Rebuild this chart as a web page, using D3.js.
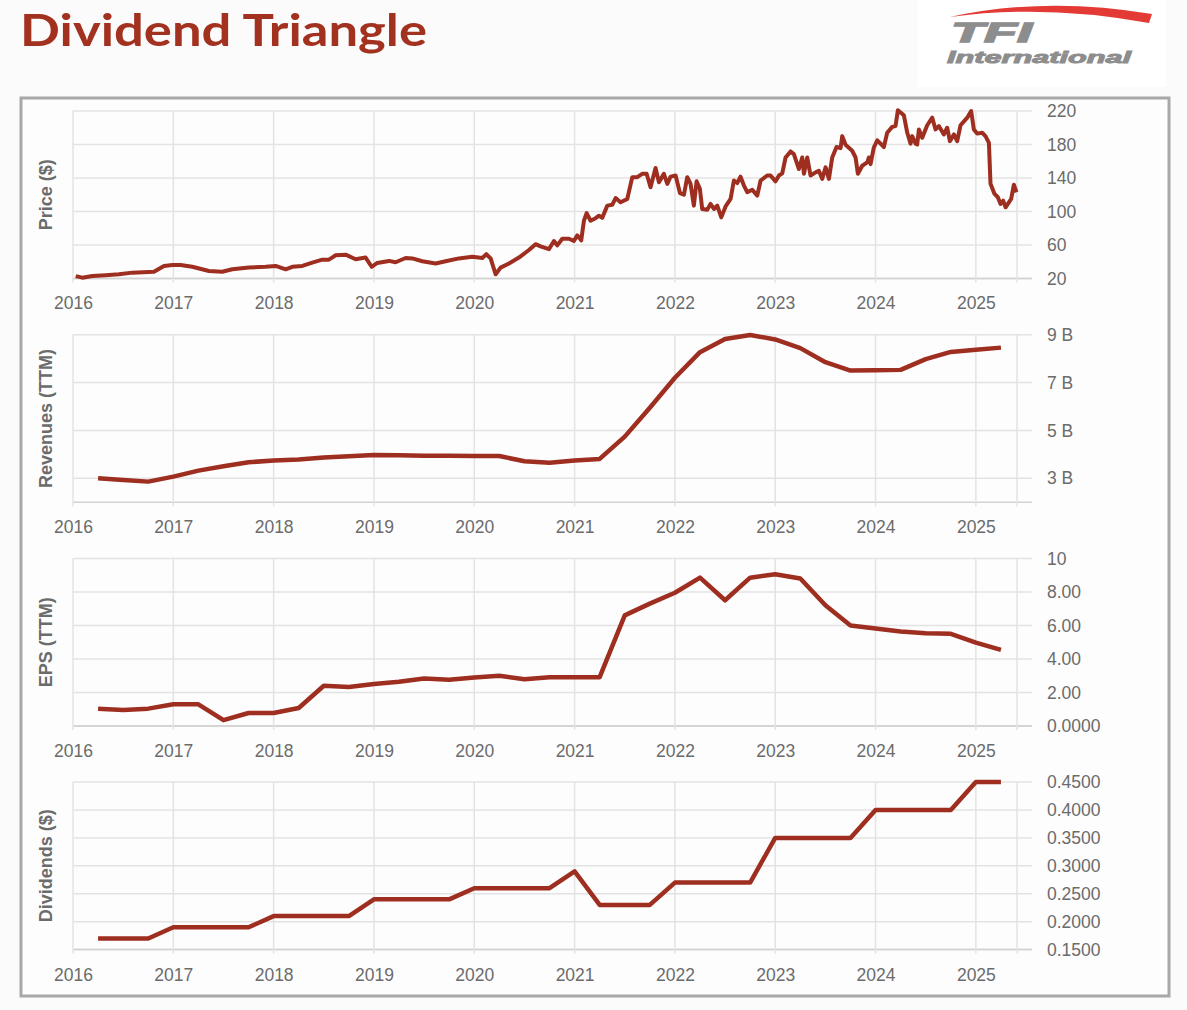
<!DOCTYPE html>
<html>
<head>
<meta charset="utf-8">
<script src="https://cdn.jsdelivr.net/npm/d3@7"></script>
<style>
  body { margin: 0; background: #fbfbfb; }
  svg { display: block; }
</style>
</head>
<body>
<svg id="chart" width="1187" height="1010"></svg>
<script>
// weekly-ish price readings (decimal year, $)
var priceYears = [
  2016.027, 2016.093, 2016.193, 2016.326, 2016.458, 2016.591, 2016.807, 2016.907, 2016.990, 2017.073,
  2017.189, 2017.355, 2017.488, 2017.588, 2017.754, 2017.920, 2018.020, 2018.120, 2018.186, 2018.286,
  2018.385, 2018.485, 2018.551, 2018.618, 2018.718, 2018.817, 2018.917, 2018.977, 2019.033, 2019.150,
  2019.216, 2019.316, 2019.382, 2019.482, 2019.615, 2019.714, 2019.847, 2019.980, 2020.080, 2020.120,
  2020.163, 2020.213, 2020.262, 2020.346, 2020.445, 2020.545, 2020.611, 2020.661, 2020.744, 2020.794,
  2020.827, 2020.877, 2020.944, 2020.993, 2021.027, 2021.066, 2021.093, 2021.120, 2021.159, 2021.209,
  2021.243, 2021.276, 2021.326, 2021.375, 2021.409, 2021.458, 2021.525, 2021.575, 2021.625, 2021.674,
  2021.718, 2021.757, 2021.807, 2021.841, 2021.890, 2021.924, 2021.957, 2022.007, 2022.050, 2022.090,
  2022.123, 2022.156, 2022.189, 2022.216, 2022.249, 2022.272, 2022.322, 2022.355, 2022.389, 2022.422,
  2022.462, 2022.505, 2022.555, 2022.588, 2022.621, 2022.654, 2022.688, 2022.721, 2022.771, 2022.821,
  2022.854, 2022.920, 2022.953, 2023.003, 2023.037, 2023.070, 2023.103, 2023.153, 2023.186, 2023.236,
  2023.269, 2023.286, 2023.319, 2023.352, 2023.402, 2023.435, 2023.468, 2023.502, 2023.535, 2023.568,
  2023.611, 2023.651, 2023.668, 2023.701, 2023.767, 2023.801, 2023.824, 2023.867, 2023.917, 2023.934,
  2023.950, 2023.983, 2024.017, 2024.050, 2024.083, 2024.116, 2024.166, 2024.199, 2024.223, 2024.282,
  2024.316, 2024.349, 2024.365, 2024.399, 2024.415, 2024.432, 2024.465, 2024.515, 2024.565, 2024.598,
  2024.631, 2024.681, 2024.714, 2024.741, 2024.781, 2024.814, 2024.847, 2024.914, 2024.953, 2024.980,
  2025.013, 2025.063, 2025.096, 2025.130, 2025.146, 2025.186, 2025.219, 2025.246, 2025.272, 2025.296,
  2025.329, 2025.352, 2025.379, 2025.405
];
var priceValues = [
  22.8, 21, 23, 24, 25, 27, 28, 35, 36, 36,
  34, 29, 28, 31, 33, 34, 35, 31, 34, 35,
  39, 42.5, 42.5, 47.7, 48.5, 43, 45, 34, 38.6, 41,
  39.4, 44.5, 44, 40.6, 38, 40.6, 44, 46, 44.5, 49,
  44, 25, 33, 38, 45, 54, 61, 58.4, 55, 64.7,
  59.6, 67.5, 67.5, 64.7, 71.5, 65.5, 89, 98, 89, 92,
  95, 92.5, 107, 108, 116, 111, 115, 141, 141, 145,
  145, 129, 152, 135, 145, 133, 141.6, 143, 122, 120,
  141, 133, 107, 136, 127, 103, 102, 109, 103, 107,
  93, 106, 115, 137, 134, 141.6, 131, 123, 126, 119,
  137, 143, 143, 136, 143, 145.5, 164.5, 171.7, 168.5, 150.7,
  164.5, 145, 164.5, 143, 146.7, 148.7, 139, 152.7, 139, 164.5,
  177, 175.6, 190, 179.6, 172.5, 164.5, 145, 154.6, 158.6, 164.5,
  156.6, 176.4, 185, 181, 177, 194, 201, 202, 221, 215,
  194, 181, 190, 181, 180, 198, 188, 203, 212, 198,
  202, 192, 200, 184, 192, 184, 203, 212, 220, 198,
  193, 194, 190, 182, 133, 121, 117, 109, 113, 105,
  111, 115, 132, 123
];

// quarterly series
var quarterYears = [
  2016.25, 2016.5, 2016.75,
  2017.0, 2017.25, 2017.5, 2017.75,
  2018.0, 2018.25, 2018.5, 2018.75,
  2019.0, 2019.25, 2019.5, 2019.75,
  2020.0, 2020.25, 2020.5, 2020.75,
  2021.0, 2021.25, 2021.5, 2021.75,
  2022.0, 2022.25, 2022.5, 2022.75,
  2023.0, 2023.25, 2023.5, 2023.75,
  2024.0, 2024.25, 2024.5, 2024.75,
  2025.0, 2025.25
];
var revenues = [
  3.0, 2.93, 2.86,
  3.07, 3.32, 3.5, 3.67,
  3.74, 3.78, 3.87, 3.92,
  3.97, 3.96, 3.94, 3.94,
  3.93, 3.93, 3.71, 3.65,
  3.74, 3.81, 4.74, 5.95,
  7.2, 8.27, 8.82, 8.99,
  8.8, 8.44, 7.85, 7.5,
  7.51, 7.53, 7.98, 8.28,
  8.37, 8.46
];
var eps = [
  1.03, 0.95, 1.03,
  1.29, 1.29, 0.34, 0.77,
  0.77, 1.07, 2.4, 2.32,
  2.5, 2.63, 2.83, 2.75,
  2.89, 2.99, 2.79, 2.91,
  2.91, 2.91, 6.6, 7.3,
  7.95, 8.85, 7.5, 8.85,
  9.05, 8.8, 7.2, 6.0,
  5.82, 5.63, 5.53, 5.5,
  4.97, 4.54
];
var dividends = [
  0.17, 0.17, 0.17,
  0.19, 0.19, 0.19, 0.19,
  0.21, 0.21, 0.21, 0.21,
  0.24, 0.24, 0.24, 0.24,
  0.26, 0.26, 0.26, 0.26,
  0.29, 0.23, 0.23, 0.23,
  0.27, 0.27, 0.27, 0.27,
  0.35, 0.35, 0.35, 0.35,
  0.40, 0.40, 0.40, 0.40,
  0.45, 0.45
];

// ticks
var yearTicks = [2016, 2017, 2018, 2019, 2020, 2021, 2022, 2023, 2024, 2025];
var priceTicks = [20, 60, 100, 140, 180, 220];
var priceLabels = ["20", "60", "100", "140", "180", "220"];
var revenueTicks = [3, 5, 7, 9];
var revenueLabels = ["3 B", "5 B", "7 B", "9 B"];
var epsTicks = [0, 2, 4, 6, 8, 10];
var epsLabels = ["0.0000", "2.00", "4.00", "6.00", "8.00", "10"];
var dividendTicks = [0.15, 0.2, 0.25, 0.3, 0.35, 0.4, 0.45];
var dividendLabels = ["0.1500", "0.2000", "0.2500", "0.3000", "0.3500", "0.4000", "0.4500"];

var lineColor = "#9e2e1f";
var textColor = "#6b6b6b";
var font = "'Liberation Sans', Arial, sans-serif";

var svg = d3.select("#chart");

// title
svg.append("text")
    .attr("x", 20)
    .attr("y", 46)
    .attr("textLength", 407)
    .attr("lengthAdjust", "spacingAndGlyphs")
    .style("font-family", "Lato, sans-serif")
    .style("font-weight", 700)
    .style("font-size", "44px")
    .style("fill", "#a2311f")
    .text("Dividend Triangle");

// logo
var logo = svg.append("g");
logo.append("rect")
    .attr("x", 918).attr("y", 0)
    .attr("width", 248).attr("height", 87)
    .style("fill", "#ffffff");
logo.append("path")
    .attr("d", "M950,17 Q1045,-4 1152,14 L1149,23 Q1045,4 950,17 Z")
    .style("fill", "#e43a36");
logo.append("text")
    .attr("x", 951).attr("y", 42)
    .attr("textLength", 81)
    .attr("lengthAdjust", "spacingAndGlyphs")
    .style("font-family", font)
    .style("font-weight", "bold")
    .style("font-style", "italic")
    .style("font-size", "28px")
    .style("fill", "#8d8d8d")
    .style("stroke", "#8d8d8d")
    .style("stroke-width", 1.4)
    .text("TFI");
logo.append("text")
    .attr("x", 947).attr("y", 63)
    .attr("textLength", 184)
    .attr("lengthAdjust", "spacingAndGlyphs")
    .style("font-family", font)
    .style("font-weight", "bold")
    .style("font-style", "italic")
    .style("font-size", "16px")
    .style("fill", "#8d8d8d")
    .style("stroke", "#8d8d8d")
    .style("stroke-width", 0.9)
    .text("International");

// frame
svg.append("rect")
    .attr("x", 21).attr("y", 98)
    .attr("width", 1148).attr("height", 898)
    .style("fill", "#fdfdfd")
    .style("stroke", "#a8a8a8")
    .style("stroke-width", 3);

var x = d3.scaleLinear()
    .domain([2016, 2025.41])
    .range([73, 1017]);

var panels = [
    { title: "Price ($)", xs: priceYears, ys: priceValues, domain: [20, 220], ticks: priceTicks, labels: priceLabels, width: 4 },
    { title: "Revenues (TTM)", xs: quarterYears, ys: revenues, domain: [2, 9], ticks: revenueTicks, labels: revenueLabels, width: 4.5 },
    { title: "EPS (TTM)", xs: quarterYears, ys: eps, domain: [0, 10], ticks: epsTicks, labels: epsLabels, width: 4.5 },
    { title: "Dividends ($)", xs: quarterYears, ys: dividends, domain: [0.15, 0.45], ticks: dividendTicks, labels: dividendLabels, width: 4.5 }
];

panels.forEach(function(p, i) {
    var top = 111 + i * 223.7;
    var bottom = top + 167.5;

    var y = d3.scaleLinear()
        .domain(p.domain)
        .range([bottom, top]);

    var g = svg.append("g");

    // horizontal grid
    g.selectAll(".hgrid")
        .data(p.ticks.concat([p.domain[0]]))
        .enter()
        .append("line")
        .attr("x1", 73)
        .attr("x2", 1032)
        .attr("y1", function(d) { return y(d); })
        .attr("y2", function(d) { return y(d); })
        .style("stroke", function(d) { return d == p.domain[0] ? "#d2d2d2" : "#e3e3e3"; })
        .style("stroke-width", 1.5);

    // vertical grid
    g.selectAll(".vgrid")
        .data(yearTicks.concat([x.domain()[1]]))
        .enter()
        .append("line")
        .attr("x1", function(d) { return x(d); })
        .attr("x2", function(d) { return x(d); })
        .attr("y1", top)
        .attr("y2", bottom + 4)
        .style("stroke", "#e3e3e3")
        .style("stroke-width", 1.5);

    // year axis
    g.append("g")
        .attr("transform", "translate(0," + bottom + ")")
        .call(d3.axisBottom(x)
            .tickValues(yearTicks)
            .tickFormat(d3.format("d"))
            .tickSize(0)
            .tickPadding(18.5))
        .call(function(a) { a.select(".domain").remove(); })
        .selectAll("text")
        .style("font-family", font)
        .style("font-size", "17.5px")
        .style("fill", textColor);

    // value axis
    g.append("g")
        .attr("transform", "translate(1047,0)")
        .call(d3.axisRight(y)
            .tickValues(p.ticks)
            .tickFormat(function(d, k) { return p.labels[k]; })
            .tickSize(0)
            .tickPadding(0))
        .call(function(a) { a.select(".domain").remove(); })
        .selectAll("text")
        .style("font-family", font)
        .style("font-size", "17.5px")
        .style("fill", textColor);

    // axis title
    g.append("text")
        .attr("transform", "translate(46," + ((top + bottom) / 2) + ") rotate(-90)")
        .attr("dy", "0.35em")
        .attr("text-anchor", "middle")
        .style("font-family", font)
        .style("font-weight", "bold")
        .style("font-size", "18px")
        .style("fill", textColor)
        .text(p.title);

    // series
    var line = d3.line()
        .x(function(d) { return x(p.xs[d]); })
        .y(function(d) { return y(p.ys[d]); });

    g.append("path")
        .datum(d3.range(p.xs.length))
        .attr("d", line)
        .style("fill", "none")
        .style("stroke", lineColor)
        .style("stroke-width", p.width)
        .style("stroke-linejoin", "round");
});
</script>
</body>
</html>
